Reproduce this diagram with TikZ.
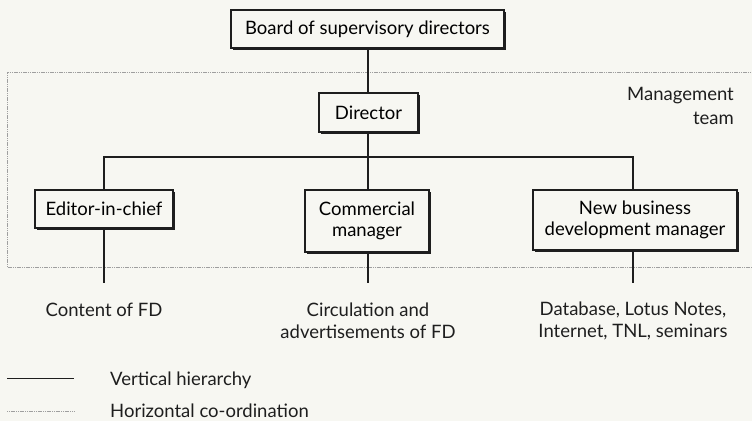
\documentclass[tikz,border=0pt]{standalone}
\usepackage{fontspec}
\setmainfont{Lato}
\usetikzlibrary{shadows}
\definecolor{paper}{HTML}{F7F7F2}
\definecolor{ink}{HTML}{1E1E1E}
\tikzset{
  orgbox/.style={draw=ink, line width=1.1pt, fill=paper, align=center,
    inner sep=0pt, font=\fontsize{18.5}{21.5}\selectfont,
    drop shadow={shadow xshift=1.6pt, shadow yshift=-1.6pt, fill=ink, opacity=1}},
  hier/.style={draw=ink, line width=1.1pt},
  coord/.style={draw=gray!75, line width=0.9pt, dash pattern=on 1.2pt off 0.6pt},
  lbl/.style={align=center, text=ink, font=\fontsize{18.5}{21.5}\selectfont, inner sep=0pt}
}
\begin{document}
\begin{tikzpicture}[x=1pt,y=-1pt]
  \fill[paper] (0,0) rectangle (752,421);
  \useasboundingbox (0,0) rectangle (752,421);

  % management team frame (runs off the right edge)
  \draw[coord] (760,72) -- (7,72) -- (7,267) -- (760,267);
  \node[lbl, anchor=north east, align=right, font=\fontsize{18.5}{24}\selectfont] (mt) at (734,87) {Management\\team};

  % boxes
  \node[orgbox, minimum width=273pt, minimum height=38pt] (board) at (367.5,29) {Board of supervisory directors};
  \node[orgbox, minimum width=99pt, minimum height=39pt] (dir) at (368.5,112.5) {Director};
  \node[orgbox, minimum width=138pt, minimum height=38pt] (ed) at (104,209) {Editor-in-chief};
  \node[orgbox, minimum width=124pt, minimum height=62pt] (com) at (367,221) {Commercial\\manager};
  \node[orgbox, minimum width=204pt, minimum height=60pt] (nb) at (635,220) {New business\\development manager};

  % hierarchy connectors
  \coordinate (bar) at (368,157);
  \coordinate (barL) at (104,157);
  \coordinate (barR) at (633,157);
  \draw[hier] (board.south -| bar) -- (dir.north -| bar);
  \draw[hier] (dir.south -| bar) -- (bar);
  \draw[hier] (ed.north -| barL) -- (barL) -- (barR) -- (nb.north -| barR);
  \draw[hier] (bar) -- (com.north -| bar);

  % task descriptions
  \coordinate (tL) at (104,283);
  \coordinate (tM) at (368,283);
  \coordinate (tR) at (633,283);
  \draw[hier] (ed.south -| tL) -- (tL);
  \draw[hier] (com.south -| tM) -- (tM);
  \draw[hier] (nb.south -| tR) -- (tR);
  \node[lbl, anchor=north] (t1) at (104,303) {Content of FD};
  \node[lbl, anchor=north] (t2) at (368,303) {Circulation and\\advertisements of FD};
  \node[lbl, anchor=north] (t3) at (633,302) {Database, Lotus Notes,\\Internet, TNL, seminars};

  % legend
  \coordinate (l1a) at (7,378);
  \coordinate (l1b) at (74,378);
  \coordinate (l2a) at (7,411);
  \coordinate (l2b) at (74,411);
  \draw[hier, line width=0.9pt] (l1a) -- (l1b);
  \draw[coord] (l2a) -- (l2b);
  \node[lbl, anchor=base west] (leg1) at (110,385) {Vertical hierarchy};
  \node[lbl, anchor=base west] (leg2) at (110,417) {Horizontal co-ordination};
\end{tikzpicture}
\end{document}
